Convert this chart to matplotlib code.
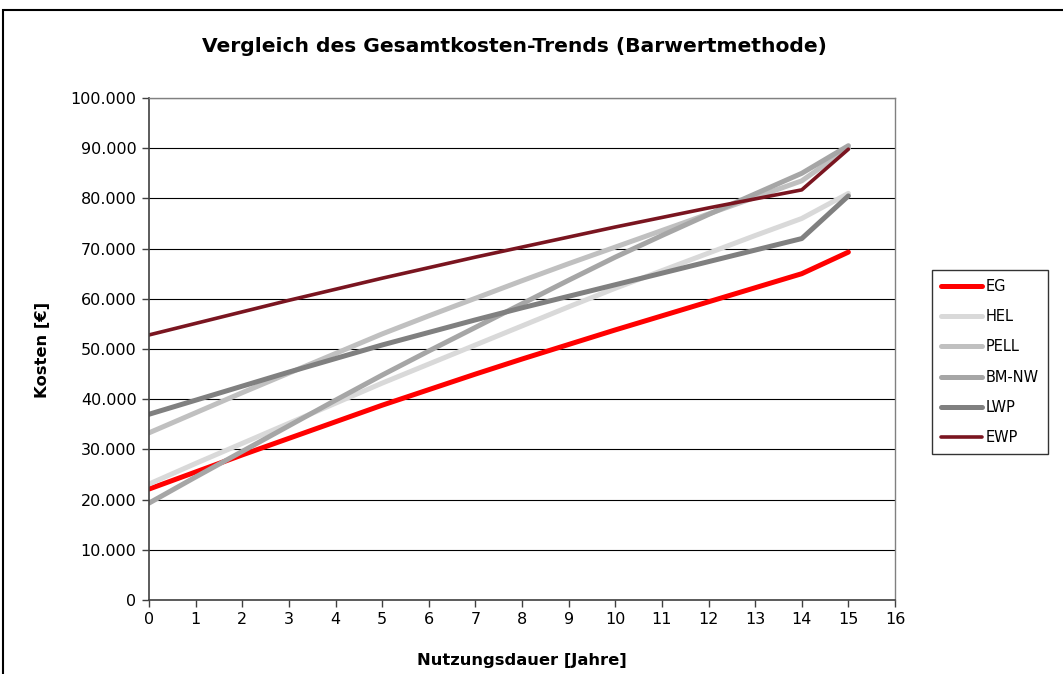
import matplotlib
matplotlib.use("Agg")
import matplotlib.pyplot as plt
from matplotlib.patches import Rectangle
from matplotlib.ticker import FuncFormatter, MultipleLocator

years = list(range(16))
EG = [22100, 25500, 28900, 32200, 35500, 38800, 41900, 45000, 48000, 50900, 53800, 56600, 59400, 62200, 65000, 69300]
HEL = [23100, 27200, 31200, 35200, 39200, 43200, 47000, 50800, 54600, 58400, 62100, 65600, 69100, 72600, 76000, 81000]
PELL = [33300, 37300, 41300, 45200, 49100, 53000, 56600, 60100, 63600, 67000, 70300, 73600, 76900, 80200, 83500, 90000]
BM_NW = [19300, 24500, 29600, 34700, 39800, 44800, 49600, 54300, 59000, 63700, 68300, 72600, 76800, 80900, 85000, 90500]
LWP = [37000, 39800, 42600, 45400, 48100, 50800, 53300, 55800, 58200, 60500, 62800, 65100, 67400, 69700, 72000, 80500]
EWP = [52800, 55100, 57400, 59700, 61900, 64100, 66200, 68300, 70300, 72300, 74300, 76200, 78100, 79900, 81700, 89800]

series_names = ["EG", "HEL", "PELL", "BM-NW", "LWP", "EWP"]
series_values = [EG, HEL, PELL, BM_NW, LWP, EWP]
colors = ["#FF0000", "#D9D9D9", "#C0C0C0", "#A6A6A6", "#808080", "#7A1520"]
widths = [3.6, 3.6, 3.6, 3.6, 3.6, 2.6]

W, H = 1063, 674
fig = plt.figure(figsize=(W / 100, H / 100), dpi=100)
fig.patch.set_facecolor("white")

# outer chart frame (cut off at right and bottom)
fig.patches.append(Rectangle((3 / W, -0.1), 1.2, (H - 10) / H + 0.1,
                             transform=fig.transFigure, fill=False,
                             edgecolor="black", linewidth=1.5))

ax = fig.add_axes([149 / W, (H - 600) / H, (895 - 149) / W, (600 - 98) / H])

for name, vals, c, lw in zip(series_names, series_values, colors, widths):
    ax.plot(years, vals, color=c, linewidth=lw, label=name,
            solid_capstyle="round", solid_joinstyle="round")

ax.set_xlim(0, 16)
ax.set_ylim(0, 100000)
ax.xaxis.set_major_locator(MultipleLocator(1))
ax.yaxis.set_major_locator(MultipleLocator(10000))
ax.yaxis.set_major_formatter(FuncFormatter(lambda v, p: f"{int(v):,}".replace(",", ".")))
ax.grid(axis="y", color="black", linewidth=0.8)
ax.set_axisbelow(True)

for s in ["top", "right"]:
    ax.spines[s].set_color("#808080")
    ax.spines[s].set_linewidth(1.0)
for s in ["left", "bottom"]:
    ax.spines[s].set_color("#404040")
    ax.spines[s].set_linewidth(1.2)

ax.tick_params(axis="both", direction="out", length=5, width=1, color="#404040",
               labelsize=11.5, pad=4)

fig.text(514 / W, 1 - 46 / H, "Vergleich des Gesamtkosten-Trends (Barwertmethode)",
         ha="center", va="center", fontsize=14.6, fontweight="bold")
fig.text(522 / W, 1 - 661 / H, "Nutzungsdauer [Jahre]", ha="center", va="center",
         fontsize=11.8, fontweight="bold")
fig.text(42 / W, 1 - 350 / H, "Kosten [€]", ha="center", va="center",
         fontsize=11.8, fontweight="bold", rotation=90)

leg = fig.legend(loc="upper left", bbox_to_anchor=(932 / W, 1 - 270 / H),
                 frameon=True, fancybox=False, edgecolor="black",
                 fontsize=10.5, handlelength=2.8, handletextpad=0.3,
                 labelspacing=1.05, borderpad=0.6, borderaxespad=0)
leg.get_frame().set_linewidth(1.0)

fig.savefig("out.png", dpi=100)
